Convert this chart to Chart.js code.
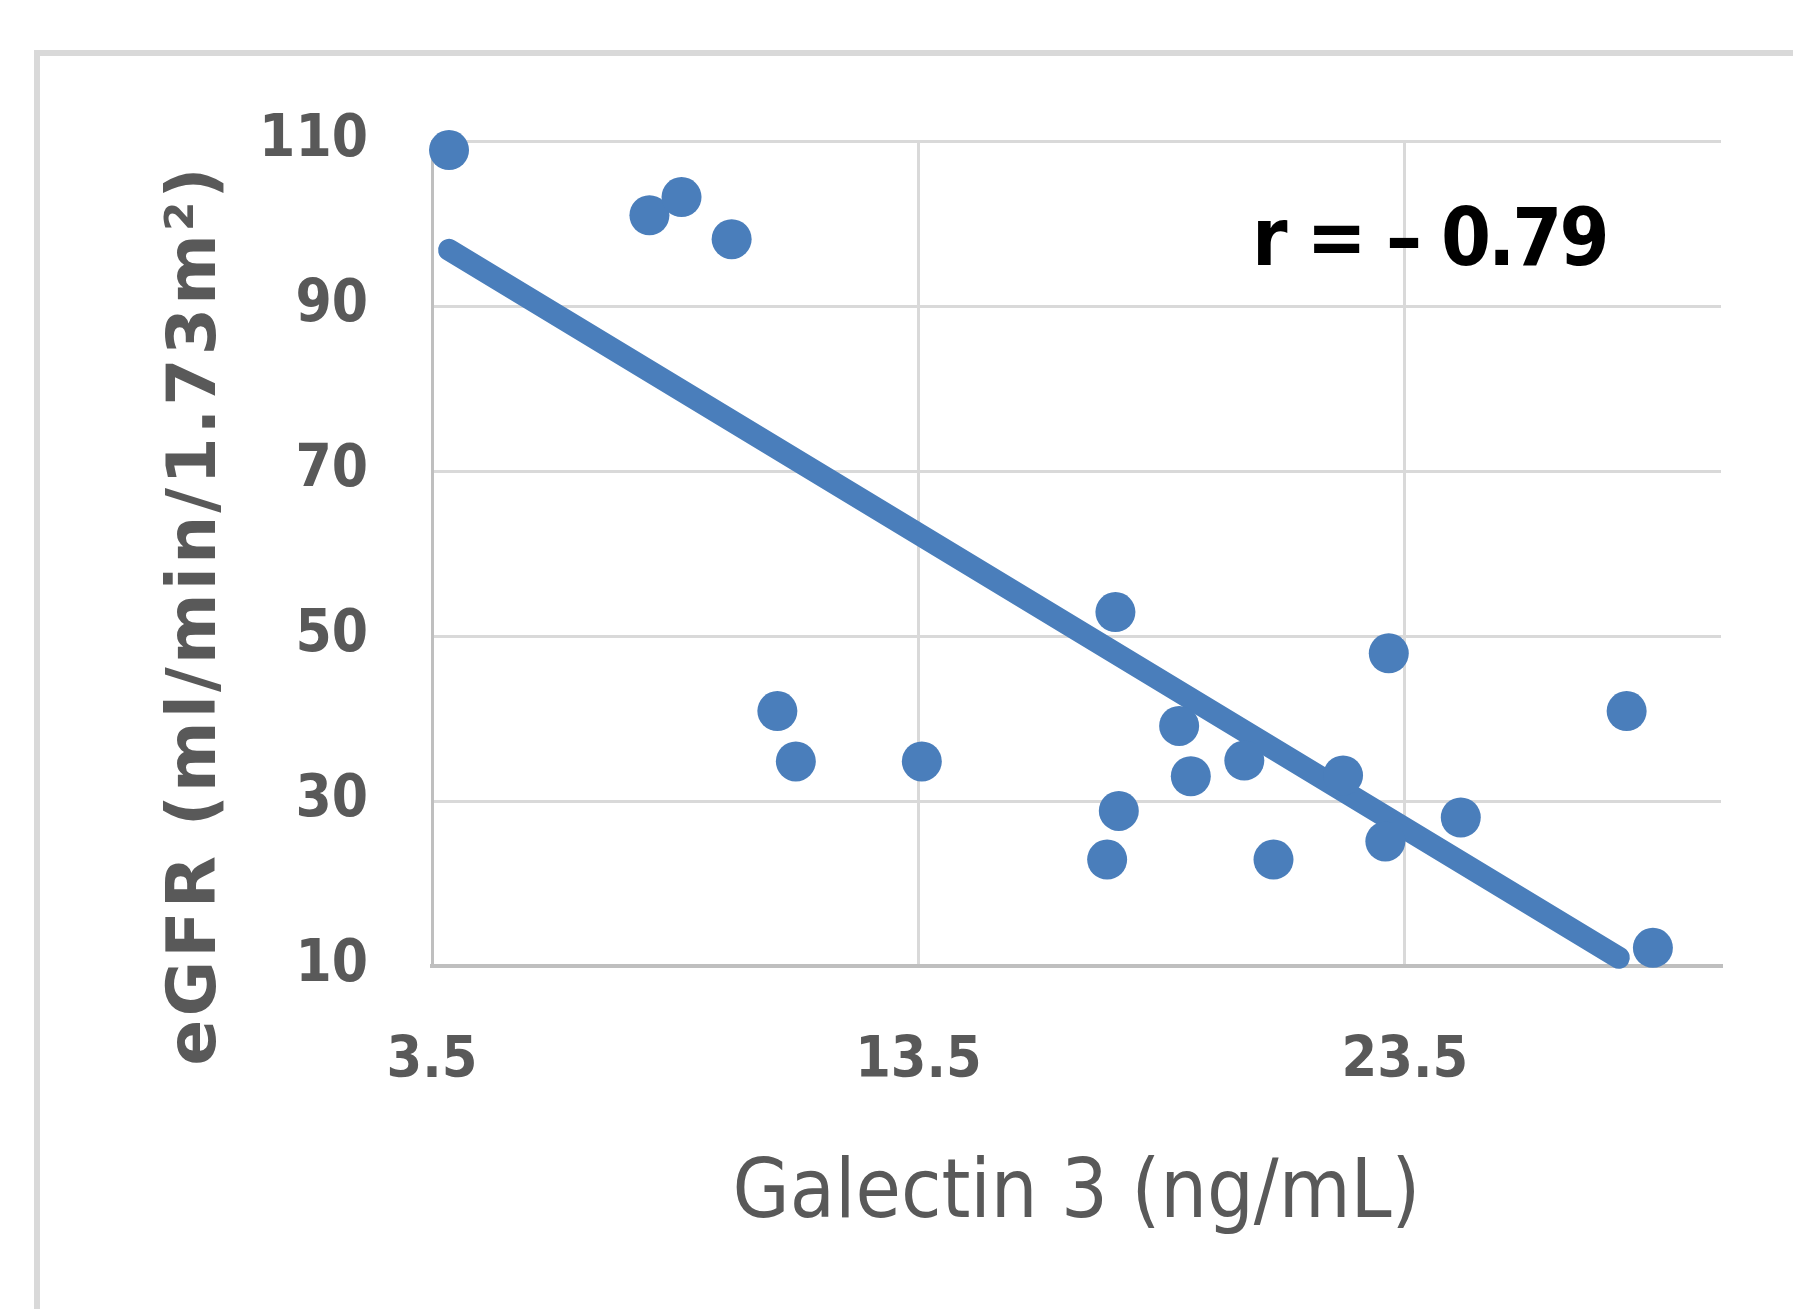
<!DOCTYPE html>
<html>
<head>
<meta charset="utf-8">
<script src="https://cdn.jsdelivr.net/npm/chart.js@4/dist/chart.umd.min.js"></script>
<style>
    html, body { margin: 0; padding: 0; background: #fff; overflow: hidden; }
    #frame {
        position: absolute; left: 34px; top: 50px;
        width: 1900px; height: 1400px;
        border: 6px solid #d9d9d9;
    }
    #chart { position: absolute; left: 0; top: 0; }
</style>
</head>
<body>
<div id="frame"></div>
<canvas id="chart" width="1793" height="1309"></canvas>
<script>
// Galectin 3 vs eGFR scatter

const galectin = [3.85, 7.97, 8.63, 9.66, 10.6, 10.98, 13.57, 17.55, 17.38, 17.62,
                  18.86, 19.1, 20.2, 20.8, 22.23, 23.17, 23.1, 24.65, 28.06, 28.6];
const egfr = [108.9, 101, 103.2, 98.1, 40.9, 34.8, 34.8, 52.9, 22.9, 28.8,
              39.1, 33, 34.9, 22.9, 33.1, 47.9, 25.1, 28, 40.9, 12.2];

// trendline end points
const trendX = [3.85, 27.9];
const trendY = [96.8, 11.0];

const xTicks = [3.5, 13.5, 23.5];
const yTicks = [10, 30, 50, 70, 90, 110];

const xTitle = 'Galectin 3 (ng/mL)';
const yTitle = 'eGFR (ml/min/1.73m\u00B2)';
const rLabel = 'r = \u2013 0.79';

const blue = '#4a7ebb';
const gray = '#595959';
const condensed = "'DejaVu Sans Condensed', 'Liberation Sans Narrow', Roboto, sans-serif";

const textPlugin = {
    id: 'extraText',
    afterDraw(chart) {
        const ctx = chart.ctx;
        ctx.save();
        // y axis title
        ctx.translate(197, 615);
        ctx.rotate(-Math.PI / 2);
        ctx.fillStyle = gray;
        ctx.font = "bold 68px 'DejaVu Sans', sans-serif";
        ctx.letterSpacing = '3px';
        ctx.textAlign = 'center';
        ctx.textBaseline = 'middle';
        ctx.fillText(yTitle, 0, 0);
        ctx.restore();

        // correlation label
        ctx.save();
        ctx.fillStyle = '#000';
        ctx.font = 'bold 80px ' + condensed;
        ctx.letterSpacing = '-3px';
        ctx.textAlign = 'left';
        ctx.textBaseline = 'alphabetic';
        ctx.fillText(rLabel, 1252, 265);
        ctx.restore();
    }
};

new Chart(document.getElementById('chart'), {
    type: 'scatter',
    data: {
        datasets: [
            {
                label: 'Trend',
                type: 'line',
                data: trendX.map((x, i) => ({ x: x, y: trendY[i] })),
                borderColor: blue,
                borderWidth: 22,
                borderCapStyle: 'round',
                pointRadius: 0,
                fill: false,
                clip: false,
                order: 2
            },
            {
                label: 'eGFR',
                data: galectin.map((x, i) => ({ x: x, y: egfr[i] })),
                pointStyle: 'circle',
                pointRadius: 20,
                pointBorderWidth: 0,
                backgroundColor: blue,
                borderColor: blue,
                clip: false,
                order: 1
            }
        ]
    },
    options: {
        responsive: false,
        animation: false,
        layout: { padding: { top: 141, right: 72, left: 0, bottom: 0 } },
        plugins: {
            legend: { display: false },
            tooltip: { enabled: false }
        },
        scales: {
            x: {
                type: 'linear',
                min: 3.5,
                max: 30,
                afterBuildTicks: scale => { scale.ticks = xTicks.map(v => ({ value: v })); },
                afterFit: scale => { scale.height = 1309 - 966; },
                grid: { color: '#d9d9d9', lineWidth: 3, drawTicks: false },
                border: { color: '#bfbfbf', width: 4 },
                ticks: {
                    color: gray,
                    padding: 62,
                    font: { family: condensed, size: 57, weight: 'bold' },
                    callback: v => v.toFixed(1)
                },
                title: {
                    display: true,
                    text: xTitle,
                    color: gray,
                    font: { family: condensed, size: 82 },
                    padding: { top: 0, bottom: 64 }
                }
            },
            y: {
                type: 'linear',
                min: 10,
                max: 110,
                afterBuildTicks: scale => { scale.ticks = yTicks.map(v => ({ value: v })); },
                afterFit: scale => { scale.width = 432; },
                grid: { color: '#d9d9d9', lineWidth: 3, drawTicks: false },
                border: { color: '#bfbfbf', width: 3 },
                ticks: {
                    color: gray,
                    padding: 64,
                    font: { family: condensed, size: 58, weight: 'bold' }
                }
            }
        }
    },
    plugins: [textPlugin]
});
</script>
</body>
</html>
